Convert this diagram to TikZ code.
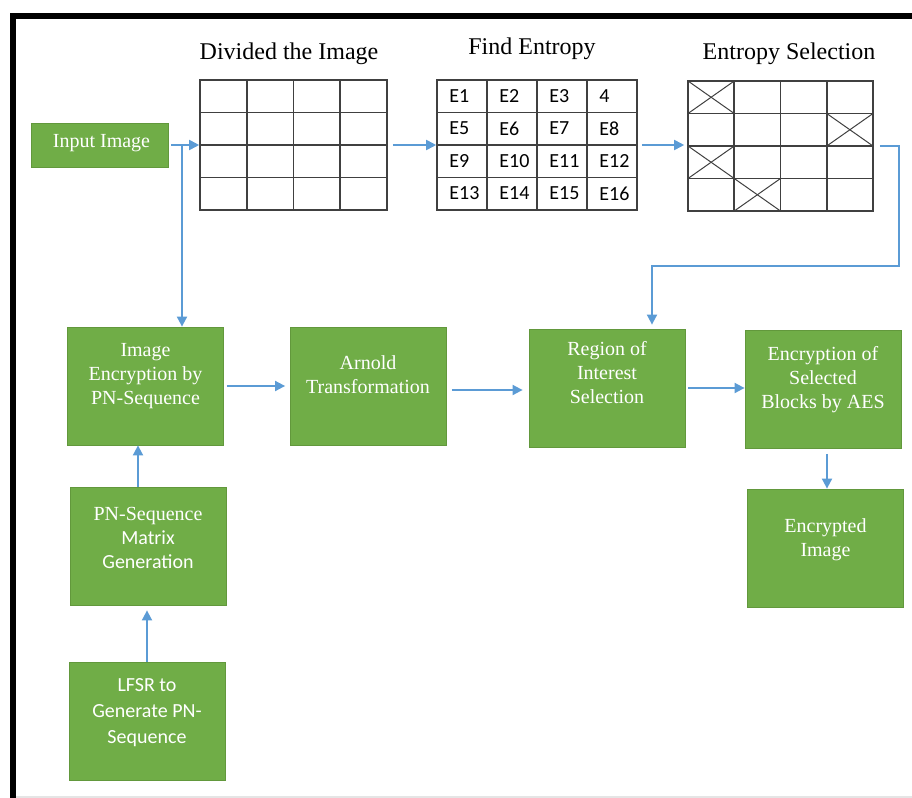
\documentclass[tikz,border=0pt]{standalone}
\usepackage{fontspec}
\setmainfont{Liberation Serif}
\newfontfamily\calibrifont{Carlito}
\usetikzlibrary{arrows.meta}

\definecolor{boxgreen}{HTML}{70AD47}
\definecolor{boxedge}{HTML}{62983C}
\definecolor{flowblue}{HTML}{5B9BD5}
\definecolor{gridgray}{HTML}{404040}

\begin{document}
\begin{tikzpicture}[x=0.5pt, y=-0.5pt,
    greenbox/.style={draw=boxedge, line width=0.4pt, fill=boxgreen, minimum width=78pt, minimum height=59pt, inner sep=0pt},
    boxtext/.style={text=white, align=center, font=\fontsize{10}{12}\selectfont, inner sep=0pt},
    gridbox/.style={draw=gridgray, line width=0.8pt, minimum height=65pt, inner sep=0pt},
    gridline/.style={draw=gridgray, line width=0.8pt},
    crossline/.style={draw=gridgray, line width=0.5pt},
    title/.style={font=\fontsize{12}{14}\selectfont, anchor=base, inner sep=0pt},
    cellnum/.style={font=\calibrifont\fontsize{10}{12}\selectfont, anchor=west, inner sep=0pt},
    flow/.style={draw=flowblue, line width=0.9pt, -{Triangle[length=5pt, width=5pt]}},
    flowline/.style={draw=flowblue, line width=0.9pt}]

    \useasboundingbox (0,0) rectangle (912,798);

    % frame
    \draw[line width=3pt] (912,16) -- (13,16) -- (13,798);
    \draw[gray!20, line width=0.75pt] (16,797) -- (912,797);

    % titles over the grids
    \node[title] (divtitle) at (289,59) {Divided the Image};
    \node[title] (enttitle) at (532,54) {Find Entropy};
    \node[title] (seltitle) at (789,59) {Entropy Selection};

    % three 4x4 grids
    \node[gridbox, minimum width=93.5pt] (divgrid) at (293.5,145) {};
    \node[gridbox, minimum width=100pt] (entgrid) at (537,145) {};
    \node[gridbox, minimum width=92.5pt] (selgrid) at (780.5,146) {};
    \foreach \i in {1,2,3} {
        \draw[gridline] (200+\i*46.75,80) -- (200+\i*46.75,210);
        \draw[gridline] (200,80+\i*32.5) -- (387,80+\i*32.5);
        \draw[gridline] (437+\i*50,80) -- (437+\i*50,210);
        \draw[gridline] (437,80+\i*32.5) -- (637,80+\i*32.5);
        \draw[gridline] (688+\i*46.25,81) -- (688+\i*46.25,211);
        \draw[gridline] (688,81+\i*32.5) -- (873,81+\i*32.5);
    }

    % entropy values
    \foreach \n [count=\k from 0] in {E1,E2,E3,4,E5,E6,E7,E8,E9,E10,E11,E12,E13,E14,E15,E16} {
        \pgfmathtruncatemacro{\row}{int(\k/4)}
        \pgfmathtruncatemacro{\col}{mod(\k,4)}
        \node[cellnum] (ent-\k) at (449+\col*50,96+\row*32.5) {\n};
    }

    % selected blocks
    \foreach \r/\c in {0/0,1/3,2/0,3/1} {
        \draw[crossline] (688+\c*46.25,81+\r*32.5) -- ++(46.25,32.5);
        \draw[crossline] (688+\c*46.25+46.25,81+\r*32.5) -- ++(-46.25,32.5);
    }

    % green blocks
    \node[greenbox, minimum width=68.5pt, minimum height=22pt] (input) at (99.5,145) {};
    \node[boxtext] (input-txt) at (101.5,143) {Input Image};

    \node[greenbox] (imgenc) at (145.5,386) {};
    \node[boxtext] (imgenc-txt) at (145.5,376) {Image\\Encryption by\\PN-Sequence};

    \node[greenbox] (arnold) at (368.5,386) {};
    \node[boxtext] (arnold-txt) at (368,375) {Arnold\\Transformation};

    \node[greenbox] (roi) at (607,388) {};
    \node[boxtext] (roi-txt) at (607,373) {Region of\\Interest\\Selection};

    \node[greenbox] (aes) at (823,389.5) {};
    \node[boxtext] (aes-txt) at (823,380) {Encryption of\\Selected\\Blocks by AES};

    \node[greenbox] (encimg) at (825.5,548) {};
    \node[boxtext] (encimg-txt) at (825.5,540) {Encrypted\\Image};

    \node[greenbox] (pnmat) at (148,546) {};
    \node[boxtext] (pnmat-txt) at (148,538) {PN-Sequence\\{\calibrifont Matrix}\\{\calibrifont Generation}};

    \node[greenbox] (lfsr) at (147,721) {};
    \node[boxtext, font=\calibrifont\fontsize{10}{13}\selectfont] (lfsr-txt) at (147,713) {LFSR to\\Generate PN-\\Sequence};

    % connectors
    \coordinate (split) at (182,145);
    \coordinate (bend) at (899,266);
    \draw[flow, shorten <=1.5pt] (input.east) -- (divgrid.west);
    \draw[flow] (split) -- (split |- imgenc.north);
    \draw[flow, shorten <=2.5pt] (divgrid.east) -- (entgrid.west);
    \draw[flow, shorten <=2pt, shorten >=1.5pt] (entgrid.east) -- (entgrid.east -| selgrid.west);
    \draw[flow, shorten <=3pt, shorten >=2pt] (selgrid.east) -| (bend) -| ([xshift=22.5pt]roi.north);
    \draw[flow, shorten <=1.5pt, shorten >=2.5pt] (imgenc.east) -- (arnold.west);
    \draw[flow, shorten <=2.5pt, shorten >=3pt] ([yshift=-2pt]arnold.east) -- ([yshift=-2pt]arnold.east -| roi.west);
    \draw[flow, shorten <=1.5pt] (roi.east) -- (roi.east -| aes.west);
    \draw[flow, shorten <=2.5pt] ([xshift=2pt]aes.south) -- ([xshift=2pt]aes.south |- encimg.north);
    \draw[flow] ([xshift=-5pt]pnmat.north) -- ([xshift=-5pt]pnmat.north |- imgenc.south);
    \draw[flow, shorten >=2.5pt] (lfsr.north) -- (lfsr.north |- pnmat.south);
\end{tikzpicture}
\end{document}
